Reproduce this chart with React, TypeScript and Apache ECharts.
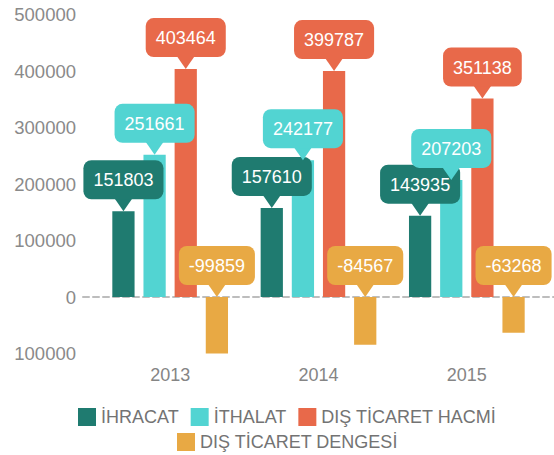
import React, { useEffect, useRef } from "react";
import * as echarts from "echarts";

const years = ["2013", "2014", "2015"];
const seriesNames = ["İHRACAT", "İTHALAT", "DIŞ TİCARET HACMİ", "DIŞ TİCARET DENGESİ"];
const ihracat = [151803, 157610, 143935];
const ithalat = [251661, 242177, 207203];
const hacim = [403464, 399787, 351138];
const denge = [-99859, -84567, -63268];
const colors = ["#1f7b70", "#52d4d2", "#e8694a", "#e8a944"];

const FONT = "Liberation Sans";
const BAR_W = 0.15;
const BAR_GAP = 0.4;

export default function App() {
  const ref = useRef<HTMLDivElement>(null);
  useEffect(() => {
    if (!ref.current) return;
    const chart = echarts.init(ref.current, null, { renderer: "svg" });
    const all = [ihracat, ithalat, hacim, denge];

    const bars = all.map((vals, i) => ({
      type: "bar",
      name: seriesNames[i],
      data: vals,
      barWidth: BAR_W * 100 + "%",
      barGap: BAR_GAP * 100 + "%",
      itemStyle: { color: colors[i] },
      z: 2,
    }));

    const labels = all.map((vals, i) => ({
      type: "custom",
      name: "label" + i,
      data: vals.map((v, j) => [j, v]),
      clip: false,
      z: 5 + i,
      renderItem: (params: any, api: any) => {
        const j = api.value(0);
        const v = api.value(1);
        const band = api.size([1, 0])[0];
        const w = band * BAR_W;
        const gap = w * BAR_GAP;
        const total = 4 * w + 3 * gap;
        const cx = api.coord([j, 0])[0] - total / 2 + i * (w + gap) + w / 2;
        const tipY = api.coord([j, Math.max(v, 0)])[1];
        return {
          type: "group",
          children: [
            {
              type: "polygon",
              shape: { points: [[cx - 9, tipY - 13], [cx + 9, tipY - 13], [cx, tipY]] },
              style: { fill: colors[i] },
            },
            {
              type: "text",
              x: cx,
              y: tipY - 12,
              style: {
                text: String(v),
                fill: "#ffffff",
                fontSize: 18,
                fontFamily: FONT,
                align: "center",
                verticalAlign: "bottom",
                backgroundColor: colors[i],
                padding: [11, 10, 10, 10],
                borderRadius: 8,
              },
            },
          ],
        };
      },
    }));

    chart.setOption({
      animation: false,
      textStyle: { fontFamily: FONT },
      grid: [
        { left: 96, right: 13, top: 14.5, bottom: 101.5 },
        { left: 83, right: 0, top: 14.5, bottom: 101.5 },
      ],
      legend: [
        {
          data: seriesNames.slice(0, 3),
          left: 78,
          top: 408,
          padding: 0,
          icon: "rect",
          itemWidth: 18,
          itemHeight: 18,
          itemGap: 12,
          textStyle: { fontSize: 18, color: "#737373", fontFamily: FONT },
        },
        {
          data: seriesNames.slice(3),
          left: 177,
          top: 433,
          padding: 0,
          icon: "rect",
          itemWidth: 18,
          itemHeight: 18,
          textStyle: { fontSize: 18, color: "#737373", fontFamily: FONT },
        },
      ],
      xAxis: [
        {
          type: "category",
          data: years,
          gridIndex: 0,
          axisLine: { show: false, onZero: false },
          axisTick: { show: false },
          axisLabel: { fontSize: 18, color: "#858585", margin: 12, fontFamily: FONT },
        },
        {
          type: "value",
          gridIndex: 1,
          min: 0,
          max: 1,
          axisLine: { show: true, onZero: true, lineStyle: { color: "#bdbdbd", width: 2, type: [6, 4] } },
          axisTick: { show: false },
          axisLabel: { show: false },
          splitLine: { show: false },
        },
      ],
      yAxis: [
        {
          type: "value",
          gridIndex: 0,
          min: -100000,
          max: 500000,
          interval: 100000,
          axisLine: { show: false },
          axisTick: { show: false },
          splitLine: { show: false },
          axisLabel: {
            fontSize: 18.5,
            color: "#8a8a8a",
            margin: 20,
            fontFamily: FONT,
            formatter: (v: number) => String(Math.abs(v)),
          },
        },
        {
          type: "value",
          gridIndex: 1,
          min: -100000,
          max: 500000,
          interval: 100000,
          axisLine: { show: false },
          axisTick: { show: false },
          axisLabel: { show: false },
          splitLine: { show: false },
        },
      ],
      series: [...bars, ...labels],
    });
    return () => chart.dispose();
  }, []);
  return (
    <div
      ref={ref}
      style={{ position: "fixed", left: 0, top: 0, width: 554, height: 455, background: "#fff" }}
    />
  );
}
